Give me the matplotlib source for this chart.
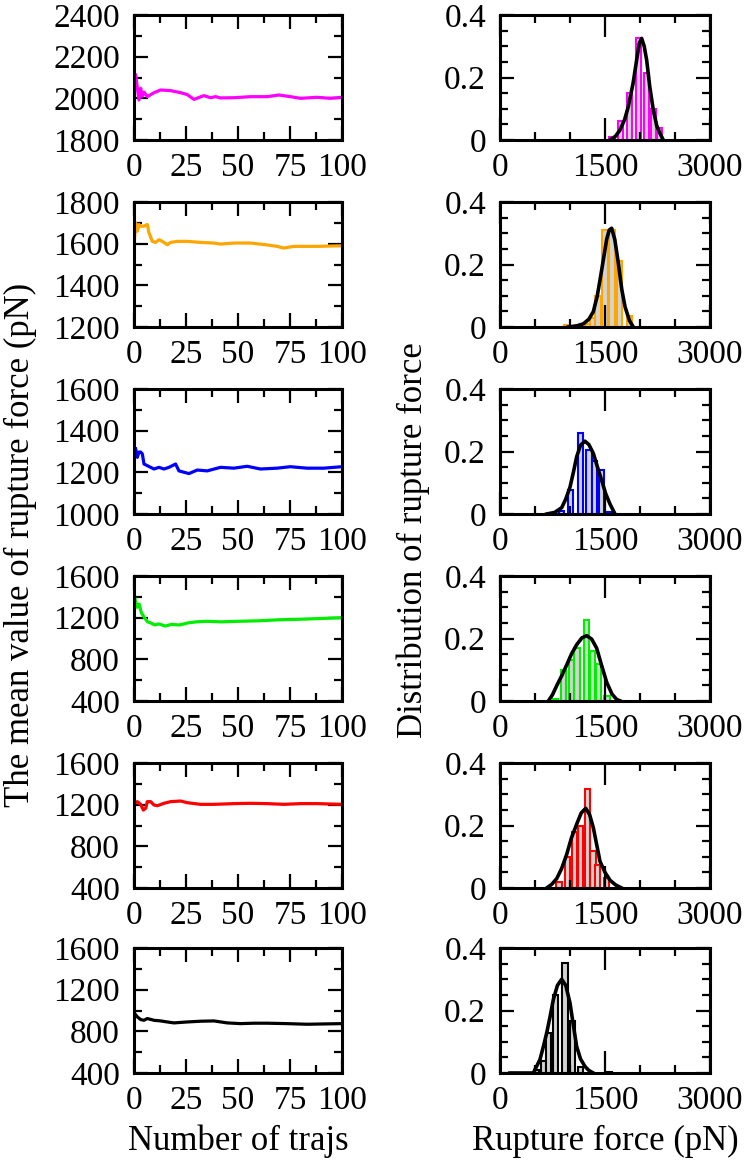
import numpy as np
import matplotlib
matplotlib.use('Agg')
import matplotlib.pyplot as plt
from matplotlib.ticker import MultipleLocator

plt.rcParams['font.family'] = ['Liberation Serif', 'DejaVu Serif']
plt.rcParams['font.size'] = 24

colors = ['#ff00ff', '#ffa500', '#0000ff', '#00ee00', '#ff0000', '#000000']

# running mean of rupture force vs number of trajectories
traj_x = [
    [0.8, 2.4, 3.2, 4.0, 4.8, 6.4, 9.6, 12.8, 17.6, 22.4, 25.6, 28.8, 33.6, 36.8, 39.2, 41.6, 48, 56, 64, 69.6, 75.2, 80, 88, 94.4, 100],
    [0, 0.8, 1.6, 2.4, 3.2, 4.8, 6.4, 7.2, 8.8, 10.4, 12, 13.6, 16, 17.6, 20.8, 25.6, 32, 38.4, 41.6, 48, 56, 64, 68.8, 72, 76.8, 88, 100],
    [0.8, 1.6, 2.4, 3.2, 4, 4.8, 6.4, 9.6, 12, 14.4, 16.8, 20, 21.6, 26.4, 30.4, 35.2, 41.6, 48, 54.4, 60.8, 68.8, 75.2, 83.2, 91.2, 100],
    [0.5, 1.5, 2.5, 3.5, 5, 6.5, 8, 10, 12, 15, 18, 22, 26, 30, 35, 42, 50, 60, 70, 80, 90, 100],
    [0.3, 1.6, 3.2, 4.5, 5.6, 6.4, 8, 9.6, 11.2, 14.4, 17.6, 22.4, 25.6, 32, 38.4, 48, 56, 64, 72, 80, 88, 100],
    [0.3, 1.6, 3.2, 4.8, 6.4, 9.6, 12.8, 16, 19.2, 25.6, 32, 38.4, 44.8, 51.2, 57.6, 64, 73.6, 83.2, 100],
]
traj_y = [
    [2112, 1992, 2048, 2010, 2030, 2008, 2027, 2040, 2037, 2027, 2018, 1995, 2013, 2003, 2008, 2002, 2003, 2008, 2008, 2016, 2008, 2000, 2005, 2000, 2005],
    [1587, 1700, 1660, 1692, 1684, 1684, 1692, 1652, 1611, 1606, 1619, 1611, 1595, 1606, 1611, 1611, 1606, 1603, 1598, 1603, 1603, 1594, 1587, 1579, 1587, 1587, 1590],
    [1313, 1272, 1297, 1297, 1289, 1240, 1232, 1216, 1224, 1216, 1224, 1240, 1207, 1194, 1211, 1207, 1224, 1220, 1229, 1216, 1220, 1227, 1220, 1220, 1227],
    [1380, 1300, 1330, 1250, 1200, 1160, 1150, 1130, 1140, 1120, 1135, 1130, 1150, 1160, 1165, 1160, 1165, 1170, 1180, 1185, 1192, 1200],
    [1213, 1229, 1203, 1148, 1165, 1229, 1229, 1197, 1190, 1213, 1229, 1235, 1219, 1203, 1203, 1210, 1213, 1210, 1203, 1210, 1210, 1203],
    [971, 939, 913, 906, 923, 906, 900, 890, 881, 890, 897, 900, 881, 874, 878, 878, 874, 868, 874],
]
ylims = [(1800, 2400), (1200, 1800), (1000, 1600), (400, 1600), (400, 1600), (400, 1600)]
ysteps = [(200, 100), (200, 100), (200, 100), (400, 200), (400, 200), (400, 200)]

# histogram of rupture force (bar centers, fractions) and fitted curve
hist_x = [
    [1600, 1725, 1850, 1975, 2090, 2190, 2280],
    [950, 1250, 1330, 1400, 1500, 1600, 1710, 1850],
    [880, 1010, 1145, 1270, 1350, 1445, 1560],
    [795, 910, 1020, 1100, 1240, 1320, 1405, 1530],
    [843, 960, 1060, 1150, 1252, 1330, 1391, 1524],
    [524, 620, 690, 795, 929, 1033, 1152, 1560],
]
hist_y = [
    [0.01, 0.06, 0.15, 0.325, 0.213, 0.10, 0.04],
    [0.005, 0.01, 0.03, 0.10, 0.31, 0.31, 0.21, 0.035],
    [0.01, 0.077, 0.26, 0.205, 0.17, 0.14, 0.005],
    [0.005, 0.10, 0.13, 0.17, 0.258, 0.16, 0.12, 0.015],
    [0.02, 0.10, 0.18, 0.20, 0.318, 0.12, 0.074, 0.033],
    [0.01, 0.04, 0.128, 0.25, 0.352, 0.165, 0.02, 0.003],
]
fit_x = [
    [1571, 1650, 1714, 1780, 1833, 1900, 1952, 1990, 2024, 2060, 2095, 2140, 2190, 2240, 2286, 2333],
    [976, 1100, 1190, 1270, 1333, 1390, 1429, 1480, 1524, 1560, 1595, 1640, 1690, 1740, 1786, 1850, 1905],
    [667, 780, 881, 940, 1000, 1050, 1095, 1150, 1214, 1270, 1333, 1390, 1452, 1510, 1571, 1643],
    [690, 750, 810, 880, 952, 1020, 1095, 1170, 1238, 1310, 1381, 1450, 1524, 1600, 1667, 1720],
    [667, 740, 810, 880, 952, 1020, 1095, 1160, 1224, 1280, 1333, 1380, 1429, 1500, 1571, 1650, 1738],
    [143, 476, 571, 620, 667, 715, 762, 820, 881, 940, 1000, 1050, 1095, 1150, 1214, 1270, 1333],
]
fit_y = [
    [0.0, 0.012, 0.032, 0.065, 0.107, 0.18, 0.256, 0.31, 0.325, 0.30, 0.256, 0.17, 0.096, 0.045, 0.021, 0.0],
    [0.0, 0.004, 0.01, 0.025, 0.049, 0.1, 0.151, 0.22, 0.281, 0.31, 0.316, 0.28, 0.205, 0.12, 0.065, 0.02, 0.0],
    [0.0, 0.005, 0.02, 0.048, 0.086, 0.135, 0.183, 0.22, 0.233, 0.222, 0.194, 0.152, 0.108, 0.065, 0.032, 0.0],
    [0.0, 0.02, 0.049, 0.08, 0.115, 0.15, 0.18, 0.202, 0.209, 0.198, 0.169, 0.115, 0.06, 0.022, 0.005, 0.0],
    [0.0, 0.012, 0.03, 0.062, 0.107, 0.16, 0.204, 0.24, 0.255, 0.235, 0.193, 0.14, 0.085, 0.05, 0.025, 0.01, 0.0],
    [0.0, 0.0, 0.043, 0.085, 0.128, 0.18, 0.235, 0.28, 0.30, 0.28, 0.224, 0.15, 0.085, 0.045, 0.021, 0.008, 0.0],
]

fig = plt.figure(figsize=(7.49, 11.61), dpi=100)
W, H = 749.0, 1161.0
tops = [15, 202, 389, 576, 763, 948]
ah = 125


def style(ax):
    for s in ax.spines.values():
        s.set_linewidth(2.2)
    ax.tick_params(which='both', direction='in', top=True, right=True, width=1.6)
    ax.tick_params(axis='x', which='both', pad=9)
    ax.tick_params(axis='y', which='both', pad=10)
    ax.tick_params(which='major', length=10)
    ax.tick_params(which='minor', length=6)


for i in range(6):
    bottom = 1 - (tops[i] + ah) / H
    axl = fig.add_axes([134 / W, bottom, 208 / W, ah / H])
    axl.plot(traj_x[i], traj_y[i], color=colors[i], lw=2.3)
    axl.set_xlim(0, 100)
    axl.set_ylim(*ylims[i])
    axl.xaxis.set_major_locator(MultipleLocator(25))
    axl.xaxis.set_minor_locator(MultipleLocator(12.5))
    axl.yaxis.set_major_locator(MultipleLocator(ysteps[i][0]))
    axl.yaxis.set_minor_locator(MultipleLocator(ysteps[i][1]))
    style(axl)

    axr = fig.add_axes([500 / W, bottom, 210 / W, ah / H])
    axr.bar(hist_x[i], hist_y[i], width=75, color='#d3d3d3', edgecolor=colors[i], lw=1.5)
    axr.plot(fit_x[i], fit_y[i], color='black', lw=2.6)
    axr.set_xlim(0, 3000)
    axr.set_ylim(0, 0.4)
    axr.set_xticks([0, 1500, 3000])
    axr.set_xticklabels(['0', '1500', '3000'])
    axr.xaxis.set_minor_locator(MultipleLocator(500))
    axr.set_yticks([0, 0.2, 0.4])
    axr.set_yticklabels(['0', '0.2', '0.4'])
    axr.yaxis.set_minor_locator(MultipleLocator(0.05))
    style(axr)
    axr.tick_params(axis='x', which='major', length=16)

fig.text(20 / W, 1 - 545 / H, 'The mean value of rupture force (pN)', rotation=90, ha='center', va='center', fontsize=25)
fig.text(413 / W, 1 - 540 / H, 'Distribution of rupture force', rotation=90, ha='center', va='center', fontsize=25)
fig.text(238 / W, 1 - 1141 / H, 'Number of trajs', ha='center', va='center', fontsize=25)
fig.text(605 / W, 1 - 1141 / H, 'Rupture force (pN)', ha='center', va='center', fontsize=25)

fig.savefig('out.png', dpi=100)
